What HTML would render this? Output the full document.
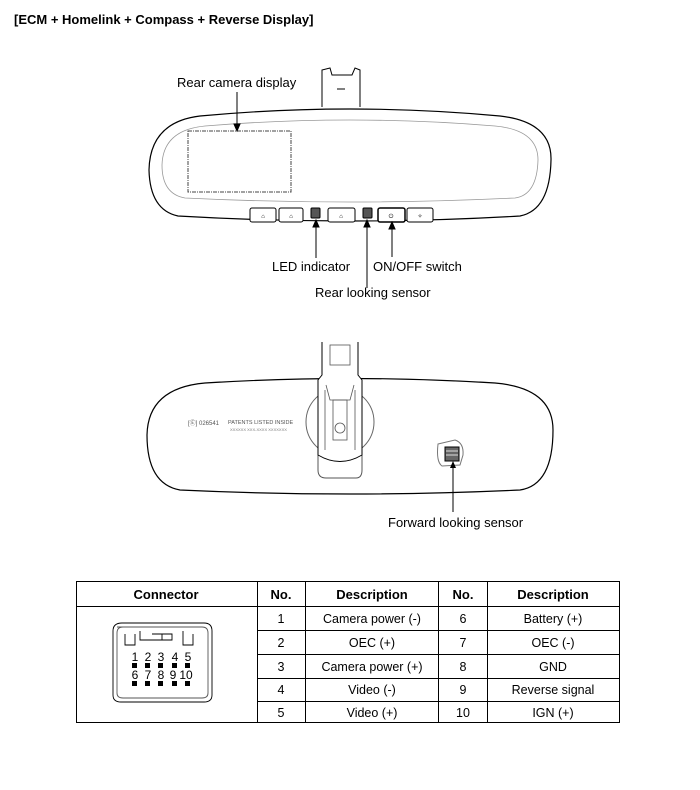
<!DOCTYPE html>
<html><head><meta charset="utf-8"><style>
body{margin:0;background:#fff;}
svg{display:block;font-family:"Liberation Sans",sans-serif;}
</style></head><body>
<svg width="700" height="790" viewBox="0 0 700 790" xmlns="http://www.w3.org/2000/svg">
<defs><marker id="ar" markerWidth="8" markerHeight="8" refX="4" refY="7" orient="auto"><path d="M0,0 L4,8 L8,0 Z" fill="#000" transform="rotate(0)"/></marker></defs>
<text x="14" y="24" font-size="13" font-weight="bold">[ECM + Homelink + Compass + Reverse Display]</text>

<!-- Mirror 1 -->
<path d="M322,107 L322,70 L330,68 L332,75 L352,75 L355,68 L360,70 L360,107" fill="#fff" stroke="#000" stroke-width="1"/>
<line x1="337" y1="89" x2="345" y2="89" stroke="#000"/>
<path d="M200,116 Q350,102 500,116 Q552,122 551,160 Q550,210 520,216 Q350,226 178,216 Q150,210 149,170 Q150,122 200,116 Z" fill="#fff" stroke="#000" stroke-width="1.2"/>
<path d="M205,126 Q350,114 495,126 Q538,130 538,160 Q537,195 515,198 Q350,206 185,198 Q162,194 162,165 Q163,130 205,126 Z" fill="none" stroke="#999" stroke-width="0.8"/>
<rect x="188" y="131" width="103" height="61" fill="none" stroke="#444" stroke-dasharray="4,1,1,1"/>
<g fill="#fff" stroke="#000">
<rect x="250" y="208" width="26" height="14" rx="2"/><rect x="279" y="208" width="24" height="14" rx="2"/>
<rect x="311" y="208" width="9" height="10" rx="1" fill="#555"/>
<rect x="328" y="208" width="27" height="14" rx="2"/>
<rect x="363" y="208" width="9" height="10" rx="1" fill="#555"/>
<rect x="378" y="208" width="27" height="14" rx="2" stroke-width="1.5"/><rect x="407" y="208" width="26" height="14" rx="2"/>
</g>
<g font-size="6" text-anchor="middle"><text x="263" y="218">⌂</text><text x="291" y="218">⌂</text><text x="341" y="218">⌂</text><text x="391" y="218">⏻</text><text x="420" y="218">✧</text></g>
<g stroke="#000" stroke-width="1">
<line x1="237" y1="92" x2="237" y2="126"/><path d="M234,124 L237,131 L240,124Z"/>
<line x1="316" y1="258" x2="316" y2="226"/><path d="M313,227 L316,220 L319,227Z"/>
<line x1="367" y1="288" x2="367" y2="226"/><path d="M364,227 L367,220 L370,227Z"/>
<line x1="392" y1="257" x2="392" y2="228"/><path d="M389,229 L392,222 L395,229Z"/>
</g>
<g font-size="13">
<text x="177" y="87">Rear camera display</text>
<text x="272" y="271">LED indicator</text>
<text x="373" y="271">ON/OFF switch</text>
<text x="315" y="297">Rear looking sensor</text>
</g>

<!-- Mirror 2 -->
<path d="M205,383 Q350,374 495,383 Q553,388 553,430 Q553,485 520,490 Q350,498 180,490 Q147,484 147,435 Q148,388 205,383 Z" fill="#fff" stroke="#000" stroke-width="1.2"/>
<circle cx="340" cy="422" r="34" fill="none" stroke="#666"/>
<path d="M318,440 L318,470 Q318,478 326,478 L356,478 Q362,478 362,470 L362,440" fill="#fff" stroke="#555"/>
<path d="M322,342 L322,375 L318,380 L318,455 Q340,468 362,455 L362,380 L358,375 L358,342" fill="#fff" stroke="#000"/>
<g stroke="#555" fill="none" stroke-width="0.8">
<rect x="330" y="345" width="20" height="20"/><path d="M326,385 L330,400 L350,400 L354,385"/><rect x="333" y="400" width="14" height="40"/><circle cx="340" cy="428" r="5"/><line x1="325" y1="390" x2="325" y2="450"/><line x1="355" y1="390" x2="355" y2="450"/>
</g>
<text x="188" y="425" font-size="6" fill="#555">[Ⓔ] 026541</text>
<text x="228" y="424" font-size="5.5" fill="#555">PATENTS LISTED INSIDE</text>
<text x="230" y="431" font-size="4" fill="#777">XXXXXX XXX-XXXX XXXXXXX</text>
<path d="M438,444 L455,440 Q464,443 463,455 L460,465 L442,466 Q436,462 438,444Z" fill="#fff" stroke="#777"/>
<rect x="445" y="447" width="14" height="14" fill="#666" stroke="#000"/>
<g stroke="#fff" stroke-width="0.8"><line x1="446" y1="451" x2="458" y2="451"/><line x1="446" y1="455" x2="458" y2="455"/></g>
<line x1="453" y1="512" x2="453" y2="467" stroke="#000"/><path d="M450,468 L453,461 L456,468Z"/>
<text x="388" y="527" font-size="13">Forward looking sensor</text>

<!-- Table -->
<g stroke="#000" stroke-width="1" fill="none">
<rect x="76.5" y="581.5" width="543" height="141"/>
<line x1="76" y1="606.5" x2="620" y2="606.5"/>
<line x1="257.5" y1="581" x2="257.5" y2="723"/><line x1="305.5" y1="581" x2="305.5" y2="723"/>
<line x1="438.5" y1="581" x2="438.5" y2="723"/><line x1="487.5" y1="581" x2="487.5" y2="723"/>
<line x1="257" y1="630.5" x2="620" y2="630.5"/><line x1="257" y1="654.5" x2="620" y2="654.5"/>
<line x1="257" y1="678.5" x2="620" y2="678.5"/><line x1="257" y1="701.5" x2="620" y2="701.5"/>
</g>
<g font-size="13" font-weight="bold" text-anchor="middle">
<text x="166" y="599">Connector</text><text x="281" y="599">No.</text><text x="372" y="599">Description</text><text x="463" y="599">No.</text><text x="553" y="599">Description</text>
</g>
<g font-size="12.5" text-anchor="middle">
<text x="281" y="623">1</text><text x="372" y="623">Camera power (-)</text><text x="463" y="623">6</text><text x="553" y="623">Battery (+)</text>
<text x="281" y="647">2</text><text x="372" y="647">OEC (+)</text><text x="463" y="647">7</text><text x="553" y="647">OEC (-)</text>
<text x="281" y="671">3</text><text x="372" y="671">Camera power (+)</text><text x="463" y="671">8</text><text x="553" y="671">GND</text>
<text x="281" y="694">4</text><text x="372" y="694">Video (-)</text><text x="463" y="694">9</text><text x="553" y="694">Reverse signal</text>
<text x="281" y="717">5</text><text x="372" y="717">Video (+)</text><text x="463" y="717">10</text><text x="553" y="717">IGN (+)</text>
</g>
<!-- connector drawing -->
<g stroke="#000" fill="none" stroke-width="0.9">
<path d="M122,623 L204,623 Q212,623 212,631 L212,695 Q212,702 204,702 L121,702 Q113,702 113,695 L113,631 Q113,623 122,623Z"/>
<path d="M117,627 L202,627 Q208,627 208,633 L208,693 Q208,698 202,698 L123,698 Q117,698 117,693 L117,633 Q117,627 123,627Z" stroke="#555"/>
<path d="M125,634 L125,645 L135,645 L135,634 M140,631 L140,640 L152,640 M183,640 L183,631 M152,634 L172,634 L172,640 L152,640 M162,634 L162,640 M183,640 L183,645 L193,645 L193,634"/>
</g>
<g font-size="12" text-anchor="middle">
<text x="135" y="661">1</text><text x="148" y="661">2</text><text x="161" y="661">3</text><text x="175" y="661">4</text><text x="188" y="661">5</text>
<text x="135" y="679">6</text><text x="148" y="679">7</text><text x="161" y="679">8</text><text x="173" y="679">9</text><text x="186" y="679">10</text>
</g>
<g fill="#000">
<rect x="132" y="663" width="5" height="5"/><rect x="145" y="663" width="5" height="5"/><rect x="158" y="663" width="5" height="5"/><rect x="172" y="663" width="5" height="5"/><rect x="185" y="663" width="5" height="5"/>
<rect x="132" y="681" width="5" height="5"/><rect x="145" y="681" width="5" height="5"/><rect x="158" y="681" width="5" height="5"/><rect x="172" y="681" width="5" height="5"/><rect x="185" y="681" width="5" height="5"/>
</g>
</svg>
</body></html>
